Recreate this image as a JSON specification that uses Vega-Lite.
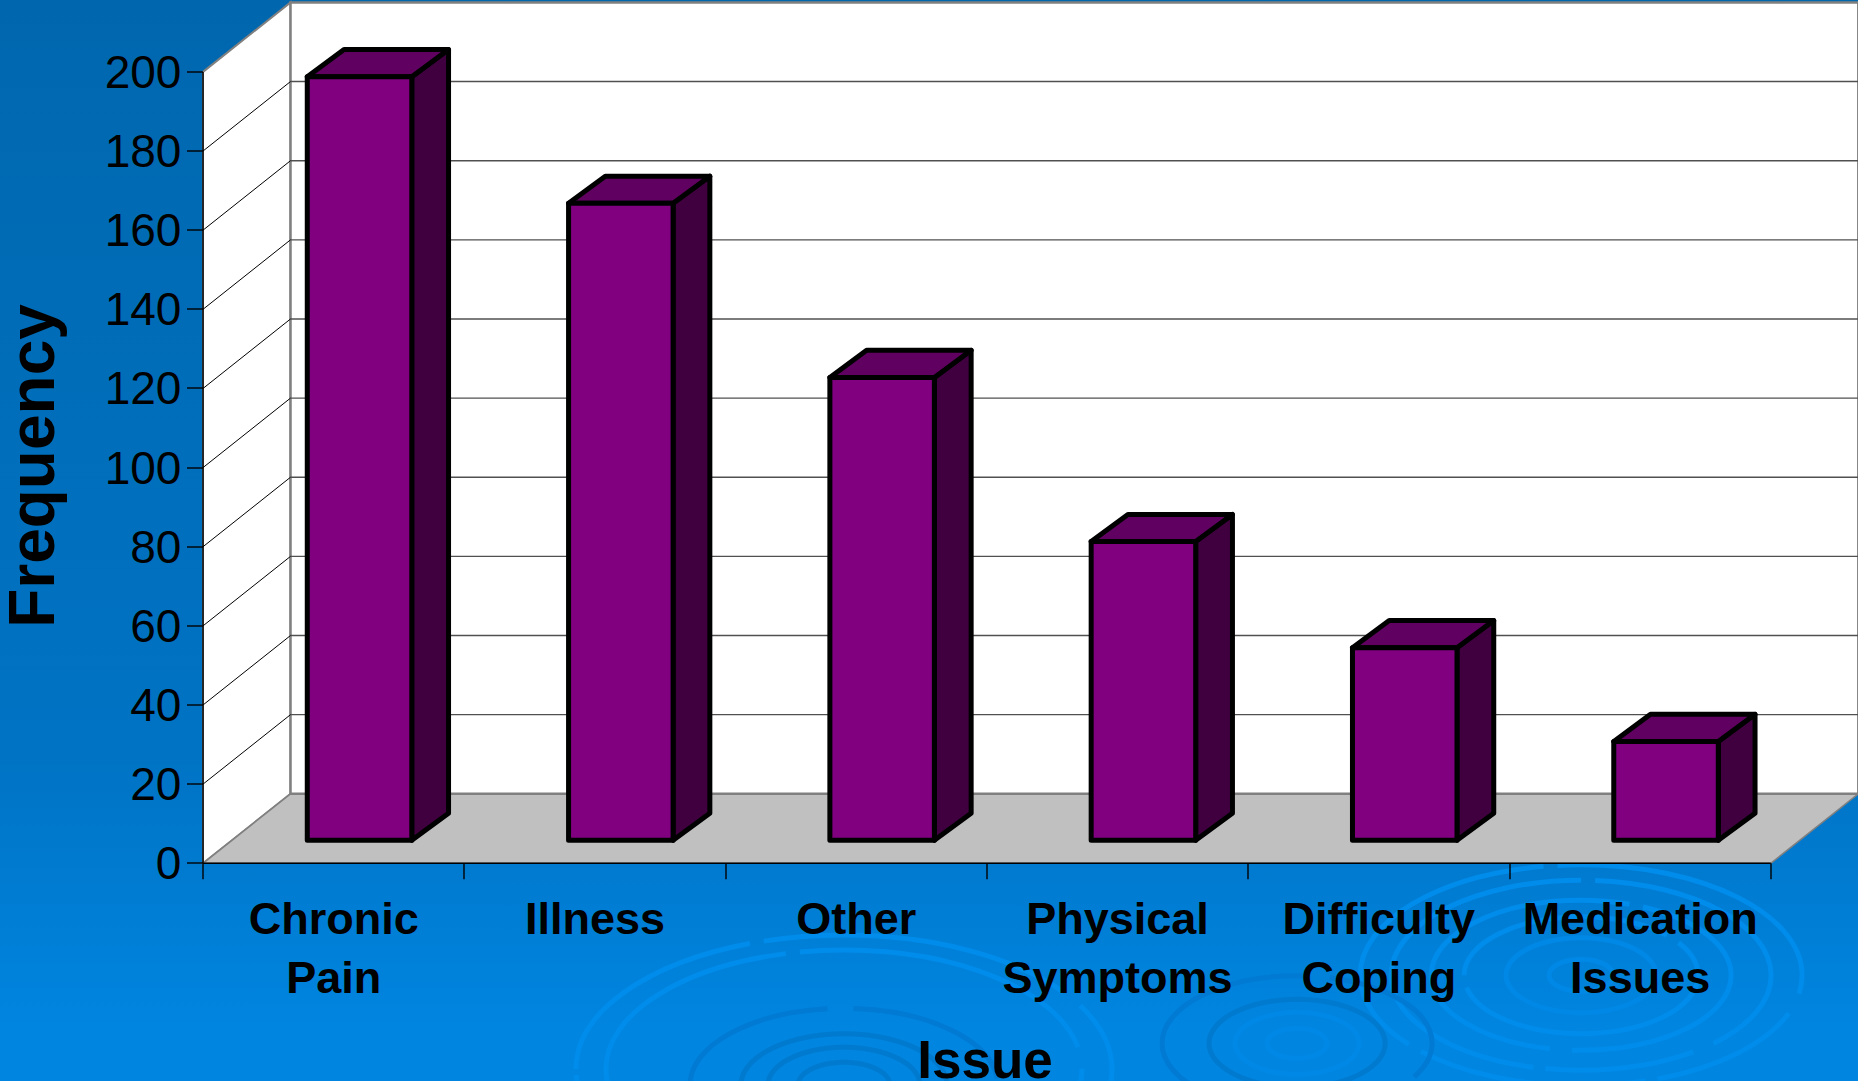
{
  "$schema": "https://vega.github.io/schema/vega-lite/v6.json",
  "width": 1858,
  "height": 1081,
  "autosize": "none",
  "padding": 0,
  "background": "#0078cc",
  "config": {"view": {"stroke": null}},
  "resolve": {"axis": {"x": "independent", "y": "independent"}},
  "params": [
    {"name": "wallDx", "value": 0.3349},
    {"name": "wallDy", "value": 17.56},
    {"name": "barNear", "value": 0.33},
    {"name": "barFar", "value": 0.72},
    {"name": "barFarX", "value": 0.75},
    {"name": "barStart", "value": 0.2885},
    {"name": "barWidth", "value": 0.4}
  ],
  "datasets": {
    "issues": [
      {"issue": "Chronic Pain", "frequency": 193},
      {"issue": "Illness", "frequency": 161},
      {"issue": "Other", "frequency": 117},
      {"issue": "Physical Symptoms", "frequency": 75.5},
      {"issue": "Difficulty Coping", "frequency": 48.7},
      {"issue": "Medication Issues", "frequency": 25}
    ],
    "walls": [{"z": 0}, {"z": 1}],
    "ticks": [
      {"t": 20}, {"t": 40}, {"t": 60}, {"t": 80}, {"t": 100},
      {"t": 120}, {"t": 140}, {"t": 160}, {"t": 180}
    ],
    "ripples": [
      {"cx": 5.274, "cy": -28.3, "radius": 32, "kind": "soft"},
      {"cx": 5.274, "cy": -28.3, "radius": 75, "kind": "soft"},
      {"cx": 5.274, "cy": -28.3, "radius": 117, "kind": "light"},
      {"cx": 5.274, "cy": -28.3, "radius": 150, "kind": "light"},
      {"cx": 5.274, "cy": -28.3, "radius": 190, "kind": "light"},
      {"cx": 5.274, "cy": -28.3, "radius": 221, "kind": "light"},
      {"cx": 4.187, "cy": -45.5, "radius": 30, "kind": "soft"},
      {"cx": 4.187, "cy": -45.5, "radius": 62, "kind": "soft"},
      {"cx": 4.187, "cy": -45.5, "radius": 88, "kind": "thick"},
      {"cx": 4.187, "cy": -45.5, "radius": 135, "kind": "dark"},
      {"cx": 2.453, "cy": -52, "radius": 268, "kind": "light"},
      {"cx": 2.453, "cy": -52, "radius": 238, "kind": "light"},
      {"cx": 2.453, "cy": -56.1, "radius": 154, "kind": "dark"},
      {"cx": 2.453, "cy": -56.1, "radius": 103, "kind": "thick"},
      {"cx": 2.453, "cy": -56.1, "radius": 76, "kind": "thick"},
      {"cx": 2.453, "cy": -56.1, "radius": 46, "kind": "thick"}
    ]
  },
  "layer": [
    {
      "description": "Slide backdrop",
      "data": {"values": [{}]},
      "mark": {
        "type": "rect",
        "fill": {
          "gradient": "linear",
          "x1": 0, "y1": 0, "x2": 0, "y2": 1,
          "stops": [
            {"offset": 0, "color": "#0067ae"},
            {"offset": 0.7, "color": "#0073c4"},
            {"offset": 0.95, "color": "#0085e0"},
            {"offset": 1, "color": "#0085e0"}
          ]
        }
      },
      "encoding": {
        "x": {
          "datum": -0.7769,
          "type": "quantitative",
          "scale": {"domain": [-0.7769, 6.3337], "nice": false, "zero": false},
          "axis": {
            "orient": "bottom",
            "offset": -217.7,
            "translate": 0,
            "values": [0, 1, 2, 3, 4, 5, 6],
            "domain": false,
            "grid": false,
            "labels": false,
            "ticks": true,
            "tickSize": 16,
            "tickColor": "#000000",
            "tickWidth": 1.4,
            "zindex": 1,
            "title": "Issue",
            "titleFont": "Liberation Sans",
            "titleFontWeight": "bold",
            "titleFontSize": 53,
            "titleColor": "#000000",
            "titleBaseline": "alphabetic",
            "titleAlign": "center",
            "titleX": 985,
            "titleY": 215
          }
        },
        "x2": {"datum": 6.3337},
        "y": {
          "datum": -55.02,
          "type": "quantitative",
          "scale": {"domain": [-55.02, 218.17], "nice": false, "zero": false},
          "axis": {
            "orient": "left",
            "offset": -203,
            "translate": 0,
            "values": [0, 20, 40, 60, 80, 100, 120, 140, 160, 180, 200],
            "domain": false,
            "grid": false,
            "ticks": true,
            "tickSize": 16,
            "tickColor": "#000000",
            "tickWidth": 1.4,
            "labelFont": "Liberation Sans",
            "labelFontSize": 46,
            "labelColor": "#000000",
            "labelPadding": 5.6,
            "labelOffset": 2,
            "labelOverlap": false,
            "labelBound": false,
            "labelFlush": false,
            "zindex": 1,
            "title": "Frequency",
            "titleFont": "Liberation Sans",
            "titleFontWeight": "bold",
            "titleFontSize": 64,
            "titleColor": "#000000",
            "titleAngle": 270,
            "titleBaseline": "alphabetic",
            "titleAlign": "center",
            "titleX": -149,
            "titleY": 466
          }
        },
        "y2": {"datum": 218.17}
      }
    },
    {
      "description": "Ripple rings in the backdrop",
      "data": {"name": "ripples"},
      "mark": {
        "type": "point",
        "filled": false,
        "clip": false,
        "shape": "M-1,0A1,0.5 0 1 1 1,0A1,0.5 0 1 1 -1,0Z"
      },
      "encoding": {
        "x": {"field": "cx", "type": "quantitative", "axis": null},
        "y": {"field": "cy", "type": "quantitative", "axis": null},
        "size": {
          "field": "radius",
          "type": "quantitative",
          "legend": null,
          "scale": {"type": "pow", "exponent": 2, "domain": [0, 300], "range": [0, 360000]}
        },
        "stroke": {
          "field": "kind",
          "type": "nominal",
          "legend": null,
          "scale": {"domain": ["light", "soft", "dark", "thick"], "range": ["#008ceb", "#0088e6", "#007ad2", "#007ace"]}
        },
        "strokeWidth": {
          "field": "kind",
          "type": "nominal",
          "legend": null,
          "scale": {"domain": ["light", "soft", "dark", "thick"], "range": [5, 5, 4, 9]}
        },
        "strokeDash": {
          "field": "kind",
          "type": "nominal",
          "legend": null,
          "scale": {"domain": ["light", "soft", "dark", "thick"], "range": [[230, 14, 310, 22, 150, 12], [1, 0], [170, 26], [1, 0]]}
        },
        "opacity": {"value": 1}
      }
    },
    {
      "description": "Left side wall",
      "data": {"name": "walls"},
      "transform": [
        {"calculate": "datum.z * wallDx", "as": "wx"},
        {"calculate": "200 + datum.z * wallDy", "as": "wTop"},
        {"calculate": "datum.z * wallDy", "as": "wBase"}
      ],
      "mark": {"type": "area", "fill": "#ffffff", "stroke": "#808080", "strokeWidth": 2, "opacity": 1},
      "encoding": {
        "x": {"field": "wx", "type": "quantitative", "axis": null},
        "y": {"field": "wTop", "type": "quantitative", "axis": null},
        "y2": {"field": "wBase"}
      }
    },
    {
      "description": "Floor",
      "data": {"name": "walls"},
      "transform": [
        {"calculate": "datum.z * wallDy", "as": "fy"},
        {"calculate": "datum.z * wallDx", "as": "fLeft"},
        {"calculate": "6 + datum.z * wallDx", "as": "fRight"}
      ],
      "mark": {"type": "area", "orient": "horizontal", "fill": "#c0c0c0", "stroke": "#808080", "strokeWidth": 1.5, "opacity": 1},
      "encoding": {
        "y": {"field": "fy", "type": "quantitative", "axis": null},
        "x": {"field": "fLeft", "type": "quantitative", "axis": null},
        "x2": {"field": "fRight"}
      }
    },
    {
      "description": "Back wall",
      "data": {"values": [{"low": 0, "high": 200}]},
      "transform": [
        {"calculate": "datum.low + wallDy", "as": "bBase"},
        {"calculate": "datum.high + wallDy", "as": "bTop"},
        {"calculate": "wallDx", "as": "bLeft"},
        {"calculate": "6 + wallDx", "as": "bRight"}
      ],
      "mark": {"type": "rect", "fill": "#ffffff", "stroke": "#808080", "strokeWidth": 2.5},
      "encoding": {
        "x": {"field": "bLeft", "type": "quantitative", "axis": null},
        "x2": {"field": "bRight"},
        "y": {"field": "bBase", "type": "quantitative", "axis": null},
        "y2": {"field": "bTop"}
      }
    },
    {
      "description": "Gridlines across the back wall",
      "data": {"name": "ticks"},
      "transform": [
        {"calculate": "datum.t + wallDy", "as": "gy"},
        {"calculate": "wallDx", "as": "gLeft"},
        {"calculate": "6 + wallDx", "as": "gRight"}
      ],
      "mark": {"type": "rule", "stroke": "#505050", "strokeWidth": 1.4},
      "encoding": {
        "x": {"field": "gLeft", "type": "quantitative", "axis": null},
        "x2": {"field": "gRight"},
        "y": {"field": "gy", "type": "quantitative", "axis": null}
      }
    },
    {
      "description": "Gridlines across the side wall",
      "data": {"name": "ticks"},
      "transform": [
        {"calculate": "datum.t + wallDy", "as": "gy"},
        {"calculate": "0", "as": "gFront"},
        {"calculate": "wallDx", "as": "gBack"}
      ],
      "mark": {"type": "rule", "stroke": "#000000", "strokeWidth": 1},
      "encoding": {
        "x": {"field": "gFront", "type": "quantitative", "axis": null},
        "x2": {"field": "gBack"},
        "y": {"field": "t", "type": "quantitative", "axis": null},
        "y2": {"field": "gy"}
      }
    },
    {
      "description": "Front edges of the floor and side wall",
      "data": {"values": [{"from": 0, "to": 6}]},
      "mark": {"type": "rule", "stroke": "#000000", "strokeWidth": 1.4},
      "encoding": {
        "x": {"field": "from", "type": "quantitative", "axis": null},
        "x2": {"field": "to"},
        "y": {"datum": 0, "type": "quantitative", "axis": null}
      }
    },
    {
      "data": {"values": [{"from": 0, "to": 200}]},
      "mark": {"type": "rule", "stroke": "#000000", "strokeWidth": 1.4},
      "encoding": {
        "x": {"datum": 0, "type": "quantitative", "axis": null},
        "y": {"field": "from", "type": "quantitative", "axis": null},
        "y2": {"field": "to"}
      }
    },
    {
      "description": "Bar side faces",
      "data": {"name": "issues"},
      "transform": [
        {"window": [{"op": "row_number", "as": "rank"}]},
        {"calculate": "[barNear, barFar]", "as": "z"},
        {"flatten": ["z"]},
        {"calculate": "datum.rank - 1 + barStart + barWidth + (datum.z === barNear ? barNear : barFarX) * wallDx", "as": "sx"},
        {"calculate": "datum.frequency + datum.z * wallDy", "as": "sTop"},
        {"calculate": "datum.z * wallDy", "as": "sBase"}
      ],
      "mark": {"type": "area", "fill": "#400040", "stroke": "#000000", "strokeWidth": 5, "strokeJoin": "round", "opacity": 1},
      "encoding": {
        "detail": {"field": "issue", "type": "nominal"},
        "x": {"field": "sx", "type": "quantitative", "axis": null},
        "y": {"field": "sTop", "type": "quantitative", "axis": null},
        "y2": {"field": "sBase"}
      }
    },
    {
      "description": "Bar top faces",
      "data": {"name": "issues"},
      "transform": [
        {"window": [{"op": "row_number", "as": "rank"}]},
        {"calculate": "[barNear, barFar]", "as": "z"},
        {"flatten": ["z"]},
        {"calculate": "datum.rank - 1 + barStart + (datum.z === barNear ? barNear : barFarX) * wallDx", "as": "tLeft"},
        {"calculate": "datum.rank - 1 + barStart + barWidth + (datum.z === barNear ? barNear : barFarX) * wallDx", "as": "tRight"},
        {"calculate": "datum.frequency + datum.z * wallDy", "as": "tY"}
      ],
      "mark": {"type": "area", "orient": "horizontal", "fill": "#600060", "stroke": "#000000", "strokeWidth": 5, "strokeJoin": "round", "opacity": 1},
      "encoding": {
        "detail": {"field": "issue", "type": "nominal"},
        "y": {"field": "tY", "type": "quantitative", "axis": null},
        "x": {"field": "tLeft", "type": "quantitative", "axis": null},
        "x2": {"field": "tRight"}
      }
    },
    {
      "description": "Bar front faces",
      "data": {"name": "issues"},
      "transform": [
        {"window": [{"op": "row_number", "as": "rank"}]},
        {"calculate": "datum.rank - 1 + barStart + barNear * wallDx", "as": "fLeft"},
        {"calculate": "datum.rank - 1 + barStart + barWidth + barNear * wallDx", "as": "fRight"},
        {"calculate": "datum.frequency + barNear * wallDy", "as": "fTop"},
        {"calculate": "barNear * wallDy", "as": "fBase"}
      ],
      "mark": {"type": "rect", "fill": "#800080", "stroke": "#000000", "strokeWidth": 5, "strokeJoin": "round"},
      "encoding": {
        "x": {"field": "fLeft", "type": "quantitative", "axis": null},
        "x2": {"field": "fRight"},
        "y": {"field": "fTop", "type": "quantitative", "axis": null},
        "y2": {"field": "fBase"}
      }
    },
    {
      "description": "Category labels under the floor",
      "data": {"name": "issues"},
      "transform": [
        {"window": [{"op": "row_number", "as": "rank"}]},
        {"calculate": "datum.rank - 0.5", "as": "centre"}
      ],
      "mark": {
        "type": "text",
        "font": "Liberation Sans",
        "fontWeight": "bold",
        "fontSize": 45,
        "color": "#000000",
        "baseline": "alphabetic",
        "align": "center",
        "lineBreak": " ",
        "lineHeight": 59,
        "yOffset": 71
      },
      "encoding": {
        "x": {"field": "centre", "type": "quantitative", "axis": null},
        "y": {"datum": 0, "type": "quantitative", "axis": null},
        "text": {"field": "issue", "type": "nominal"}
      }
    }
  ]
}
